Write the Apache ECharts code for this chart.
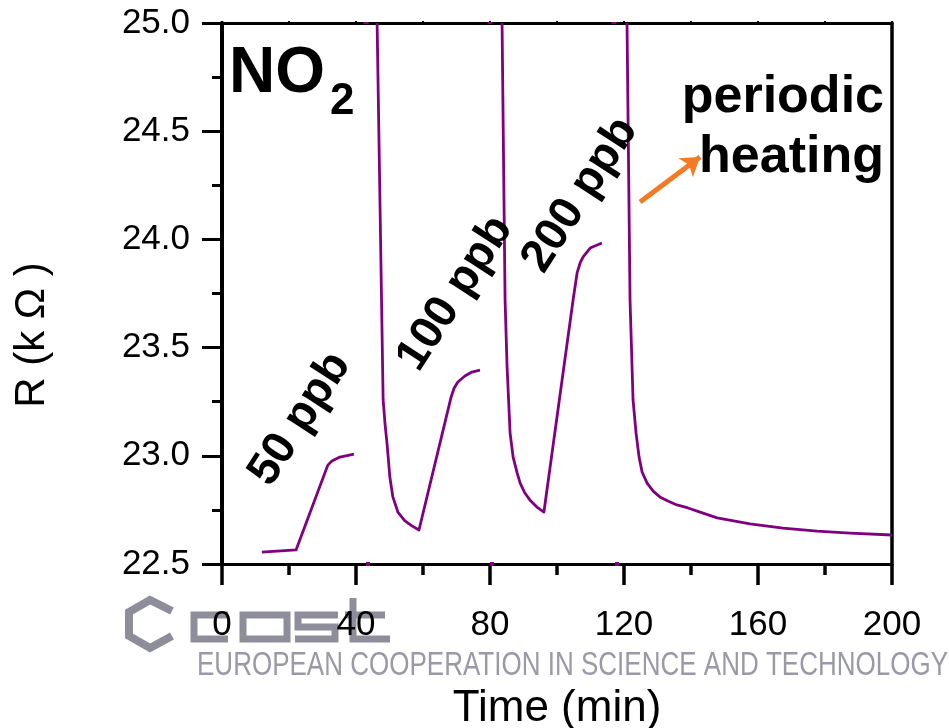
<!DOCTYPE html>
<html>
<head>
<meta charset="utf-8">
<script src="https://cdn.jsdelivr.net/npm/echarts@6/dist/echarts.min.js"></script>
<style>
  html, body { margin: 0; padding: 0; background: #fff; }
  #chart { width: 949px; height: 728px; }
</style>
</head>
<body>
<div id="chart"></div>
<script>
// Sensor resistance R (kΩ) versus time (min), one array pair per NO2 step
const t50 = [11.9, 22.1, 31.6, 32.8, 35.2, 39.4];
const r50 = [22.555, 22.565, 22.957, 22.976, 22.994, 23.008];

const t100 = [46.3, 48.1, 48.7, 49.3, 50.1, 51.0, 52.5, 54.6, 56.7, 58.8, 68.4, 69.3, 70.4, 72.5, 74.6, 77.0];
const r100 = [25.0, 23.258, 23.142, 23.050, 22.902, 22.810, 22.740, 22.699, 22.676, 22.657, 23.272, 23.313, 23.341, 23.369, 23.387, 23.396];

const t200 = [83.6, 84.5, 85.1, 86.0, 86.9, 88.1, 89.0, 90.4, 91.9, 94.0, 96.1, 104.8, 106.0, 106.9, 107.8, 109.9, 113.4];
const r200 = [25.0, 23.720, 23.410, 23.105, 22.994, 22.921, 22.874, 22.828, 22.796, 22.763, 22.740, 23.720, 23.845, 23.891, 23.919, 23.960, 23.983];

const tTail = [120.9, 121.8, 122.7, 123.6, 124.5, 125.4, 126.9, 128.7, 130.7, 133.1, 135.8, 139.1, 142.7, 147.8, 157.6, 167.5, 177.6, 187.5, 200.0];
const rTail = [25.0, 23.720, 23.258, 23.105, 22.994, 22.925, 22.874, 22.837, 22.810, 22.791, 22.773, 22.759, 22.740, 22.713, 22.685, 22.666, 22.652, 22.643, 22.634];

// readings clipped at the axis limits during the heating pulses
const lowT = [43.6, 80.6, 117.9];
const highT = [43.0, 80.0, 117.0];
const rMin = 22.5;
const rMax = 25.0;

// concentration labels
const stepNames = ['50 ppb', '100 ppb', '200 ppb'];
const stepT = [23.3, 69.6, 106.9];
const stepR = [23.170, 23.750, 24.205];

// heating arrow (data coordinates)
const arrowFrom = [124.8, 24.173];
const arrowTo = [142.7, 24.381];

// axis ticks
const xTicks = [0, 40, 80, 120, 160, 200];
const yTicks = [22.5, 23.0, 23.5, 24.0, 24.5, 25.0];

const FONT = '"Liberation Sans", Arial, Helvetica, sans-serif';
const PURPLE = '#800080';
const zip = (a, b) => a.map((v, i) => [v, b[i]]);

const chart = echarts.init(document.getElementById('chart'));

function curve(name, t, r) {
  return {
    name: name,
    type: 'line',
    data: zip(t, r),
    showSymbol: false,
    symbol: 'none',
    lineStyle: { color: PURPLE, width: 2.8, join: 'round' },
    z: 3
  };
}

const logoColor = '#8e8e9a';

chart.setOption({
  animation: false,
  grid: {
    left: 222, right: 57, top: 23, bottom: 164,
    containLabel: false, outerBoundsMode: 'none'
  },
  xAxis: [{
    type: 'value',
    min: xTicks[0],
    max: xTicks[xTicks.length - 1],
    interval: 40,
    position: 'bottom',
    name: 'Time (min)',
    nameLocation: 'middle',
    nameGap: 123,
    nameTextStyle: { fontFamily: FONT, fontSize: 44, color: '#000' },
    axisLine: { show: true, onZero: false, lineStyle: { color: '#000', width: 3 } },
    axisTick: { show: true, inside: false, length: 21, lineStyle: { color: '#000', width: 3.5 } },
    minorTick: { show: true, splitNumber: 2, length: 11, lineStyle: { color: '#000', width: 3.5 } },
    axisLabel: { fontFamily: FONT, fontSize: 35, color: '#000', margin: 44 },
    splitLine: { show: false }
  }, {
    type: 'value',
    min: xTicks[0],
    max: xTicks[xTicks.length - 1],
    interval: 40,
    position: 'top',
    axisLine: { show: true, onZero: false, lineStyle: { color: '#000', width: 3 } },
    axisTick: { show: true, length: 2, lineStyle: { color: '#000', width: 2 } },
    minorTick: { show: true, splitNumber: 2, length: 2, lineStyle: { color: '#000', width: 2 } },
    axisLabel: { show: false },
    splitLine: { show: false }
  }],
  yAxis: [{
    type: 'value',
    min: rMin,
    max: rMax,
    interval: 0.5,
    position: 'left',
    axisLine: { show: true, onZero: false, lineStyle: { color: '#000', width: 4 } },
    axisTick: { show: true, inside: false, length: 20, lineStyle: { color: '#000', width: 3 } },
    minorTick: { show: true, splitNumber: 2, length: 10, lineStyle: { color: '#000', width: 3 } },
    axisLabel: {
      fontFamily: FONT, fontSize: 35, color: '#000', margin: 32,
      formatter: v => v.toFixed(1)
    },
    splitLine: { show: false }
  }, {
    type: 'value',
    min: rMin,
    max: rMax,
    interval: 0.5,
    position: 'right',
    axisLine: { show: true, onZero: false, lineStyle: { color: '#000', width: 3.5 } },
    axisTick: { show: false },
    axisLabel: { show: false },
    splitLine: { show: false }
  }],
  series: [
    curve('50 ppb', t50, r50),
    curve('100 ppb', t100, r100),
    curve('200 ppb', t200, r200),
    curve('recovery', tTail, rTail),
    {
      name: 'clipped low',
      type: 'scatter',
      data: lowT.map(t => [t, rMin]),
      symbol: 'rect',
      symbolSize: [4, 4],
      itemStyle: { color: PURPLE, opacity: 1 },
      clip: false,
      z: 4
    },
    {
      name: 'clipped high',
      type: 'scatter',
      data: highT.map(t => [t, rMax]),
      symbol: 'rect',
      symbolSize: [5, 2],
      itemStyle: { color: PURPLE, opacity: 1 },
      clip: false,
      z: 6
    },
    {
      name: 'steps',
      type: 'scatter',
      data: stepNames.map((n, i) => ({ name: n, value: [stepT[i], stepR[i]] })),
      symbolSize: 1,
      itemStyle: { color: 'rgba(0,0,0,0)', opacity: 1 },
      label: {
        show: true,
        position: 'inside',
        formatter: p => p.name,
        rotate: 57,
        fontFamily: FONT,
        fontSize: 46,
        fontWeight: 'bold',
        color: '#000',
        opacity: 1,
        textBorderWidth: 0
      },
      z: 5
    },
    {
      name: 'heating arrow',
      type: 'line',
      data: [],
      markLine: {
        silent: true,
        symbol: ['none', 'arrow'],
        symbolSize: 18,
        label: { show: false },
        lineStyle: { color: '#F47A24', width: 5, type: 'solid' },
        data: [[{ coord: arrowFrom }, { coord: arrowTo }]]
      }
    }
  ],
  graphic: [
    {
      type: 'text', z: 20,
      x: 32, y: 335, rotation: Math.PI / 2,
      style: { text: 'R (k \u03A9 )', fill: '#000', font: '42px ' + FONT, align: 'center', verticalAlign: 'middle' }
    },
    {
      type: 'text', z: 20,
      style: { text: 'NO', x: 229, y: 42, fill: '#000', font: 'bold 64px ' + FONT, verticalAlign: 'top' }
    },
    {
      type: 'text', z: 20,
      style: { text: '2', x: 330, y: 80, fill: '#000', font: 'bold 44px ' + FONT, verticalAlign: 'top' }
    },
    {
      type: 'text', z: 20,
      style: {
        text: 'periodic\nheating', x: 884, y: 68, fill: '#000',
        font: 'bold 52px ' + FONT, align: 'right', verticalAlign: 'top', lineHeight: 60
      }
    },
    // COST emblem
    {
      type: 'polyline', z: -10,
      shape: { points: [[172, 611], [150, 600], [129, 612], [129, 636], [150, 648], [172, 636]] },
      style: { stroke: logoColor, lineWidth: 8, fill: null, lineJoin: 'miter' }
    },
    {
      type: 'polyline', z: -10,
      shape: { points: [[228, 615], [194, 615], [194, 639], [228, 639]] },
      style: { stroke: logoColor, lineWidth: 7, fill: null, lineJoin: 'miter' }
    },
    {
      type: 'rect', z: -10,
      shape: { x: 243, y: 615, width: 44, height: 24 },
      style: { stroke: logoColor, lineWidth: 7, fill: null }
    },
    {
      type: 'polyline', z: -10,
      shape: { points: [[338, 615], [298, 615], [298, 627], [335, 627], [335, 639], [295, 639]] },
      style: { stroke: logoColor, lineWidth: 7, fill: null, lineJoin: 'miter' }
    },
    {
      type: 'polyline', z: -10,
      shape: { points: [[353, 598], [353, 639], [390, 639]] },
      style: { stroke: logoColor, lineWidth: 7, fill: null, lineJoin: 'miter' }
    },
    {
      type: 'line', z: -10,
      shape: { x1: 345, y1: 615, x2: 385, y2: 615 },
      style: { stroke: logoColor, lineWidth: 7 }
    },
    {
      type: 'text', z: -10,
      x: 197, y: 683, scaleX: 0.765,
      style: {
        text: 'EUROPEAN COOPERATION IN SCIENCE AND TECHNOLOGY', x: 0, y: 0,
        fill: '#9a9aa6', font: '34px ' + FONT,
        verticalAlign: 'bottom'
      }
    }
  ]
});
</script>
</body>
</html>
